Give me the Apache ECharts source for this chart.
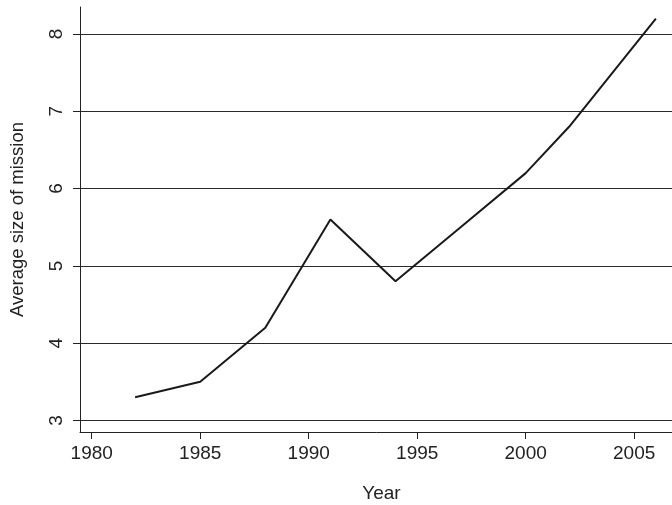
<!DOCTYPE html>
<html>
<head>
<meta charset="utf-8">
<style>
  html, body { margin: 0; padding: 0; background: #fff; }
  #chart { width: 672px; height: 505px; }
</style>
<script src="https://cdn.jsdelivr.net/npm/echarts@6/dist/echarts.min.js"></script>
</head>
<body>
<div id="chart"></div>
<script>
// Average size of mission by year
const years = [1982, 1985, 1988, 1991, 1994, 1997, 2000, 2002, 2006];
const avgSize = [3.3, 3.5, 4.2, 5.6, 4.8, 5.5, 6.2, 6.8, 8.2];
const xTicks = [1980, 1985, 1990, 1995, 2000, 2005];
const yTicks = [3, 4, 5, 6, 7, 8];

const chart = echarts.init(document.getElementById('chart'), null, { renderer: 'canvas' });
const font = 'Liberation Sans, Arial, Helvetica, sans-serif';

chart.setOption({
  animation: false,
  backgroundColor: '#ffffff',
  grid: {
    left: 80, right: -11, top: 7, bottom: 73,
    containLabel: false,
    outerBoundsMode: 'none'
  },
  xAxis: {
    type: 'value',
    min: 1979.46,
    max: 2007.25,
    name: 'Year',
    nameLocation: 'middle',
    nameGap: 52,
    nameTextStyle: { fontFamily: font, fontSize: 19, color: '#222' },
    axisLine: { show: true, lineStyle: { color: '#222', width: 1 } },
    axisTick: { show: true, length: 7, customValues: xTicks, lineStyle: { color: '#222' } },
    axisLabel: {
      customValues: xTicks,
      formatter: v => String(v),
      fontFamily: font, fontSize: 19, color: '#222', margin: 12,
      showMinLabel: true, showMaxLabel: true
    },
    splitLine: { show: false }
  },
  yAxis: {
    type: 'value',
    min: 2.85,
    max: 8.35,
    name: 'Average size of mission',
    nameLocation: 'middle',
    nameGap: 53,
    nameTextStyle: { fontFamily: font, fontSize: 18.5, color: '#222' },
    axisLine: { show: true, lineStyle: { color: '#222', width: 1 } },
    axisTick: { show: true, length: 7, customValues: yTicks, lineStyle: { color: '#222' } },
    axisLabel: {
      customValues: yTicks,
      formatter: v => String(v),
      rotate: 90,
      fontFamily: font, fontSize: 19, color: '#222', margin: 14
    },
    splitLine: { show: true, lineStyle: { color: '#2a2a2a', width: 1.2 } }
  },
  series: [{
    type: 'line',
    data: years.map((y, i) => [y, avgSize[i]]),
    showSymbol: false,
    symbol: 'none',
    lineStyle: { color: '#1a1a1a', width: 2 },
    z: 5
  }]
});
</script>
</body>
</html>
